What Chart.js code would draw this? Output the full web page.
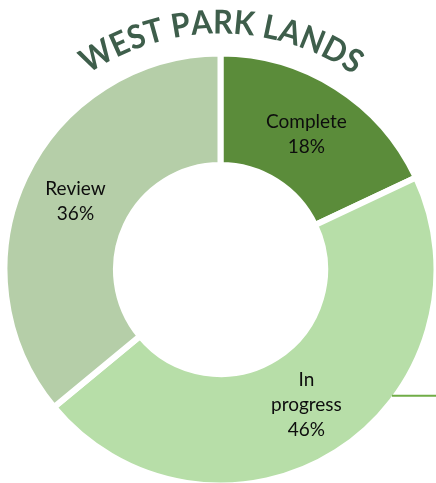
<!DOCTYPE html>
<html>
<head>
<meta charset="utf-8">
<script src="https://cdn.jsdelivr.net/npm/chart.js@4/dist/chart.umd.min.js"></script>
<style>
  html, body { margin: 0; padding: 0; background: #fff; }
  #wrap { width: 436px; height: 483px; }
</style>
</head>
<body>
<div id="wrap"><canvas id="status_pie" width="436" height="483"></canvas></div>
<script>
const chartTitle = 'WEST PARK LANDS';
const categories = ['Complete', 'In progress', 'Review'];
const shares = [18, 46, 36];
const sliceColors = ['#5b8c3a', '#b7dea8', '#b5cea8'];

// labels sit in the middle of the ring, wrapped like the office chart does it
function wrapLabel(ctx, text, maxWidth) {
    const words = text.split(' ');
    const lines = [];
    let line = '';
    words.forEach(w => {
        const test = line ? line + ' ' + w : w;
        if (line && ctx.measureText(test).width > maxWidth) {
            lines.push(line);
            line = w;
        } else {
            line = test;
        }
    });
    lines.push(line);
    return lines;
}

const ringLabels = {
    id: 'ringLabels',
    afterDraw(chart) {
        const ctx = chart.ctx;
        const arcs = chart.getDatasetMeta(0).data;
        ctx.save();
        ctx.font = '19px Lato, "Open Sans", sans-serif';
        ctx.fillStyle = '#0d0d0d';
        ctx.textAlign = 'center';
        ctx.textBaseline = 'middle';
        arcs.forEach((arc, i) => {
            const pos = arc.tooltipPosition();
            const lines = wrapLabel(ctx, categories[i], 88);
            lines.push(shares[i] + '%');
            const lh = 25;
            const top = pos.y - (lines.length - 1) * lh / 2;
            lines.forEach((l, k) => ctx.fillText(l, pos.x, top + k * lh));

            // leader line off the biggest slice, out to the right edge
            if (lines.length > 2) {
                const r = arc.outerRadius - 3;
                const y = pos.y - 9;
                const dy = y - arc.y;
                const x0 = arc.x + Math.sqrt(r * r - dy * dy);
                ctx.strokeStyle = '#70ad47';
                ctx.lineWidth = 2;
                ctx.beginPath();
                ctx.moveTo(x0, y);
                ctx.lineTo(chart.width, y);
                ctx.stroke();
            }
        });
        ctx.restore();
    }
};

// title bent along a circle around the doughnut
const arcTitle = {
    id: 'arcTitle',
    afterDraw(chart) {
        const ctx = chart.ctx;
        const arc = chart.getDatasetMeta(0).data[0];
        const cx = arc.x, cy = arc.y;
        const radius = 236;
        const squeeze = 0.93;
        ctx.save();
        ctx.font = 'bold 33px Lato, "Open Sans", sans-serif';
        ctx.fillStyle = '#3e5e4b';
        ctx.textAlign = 'left';
        ctx.textBaseline = 'alphabetic';
        const total = ctx.measureText(chartTitle).width * squeeze;
        let angle = -total / 2 / radius;
        for (const ch of chartTitle) {
            const w = ctx.measureText(ch).width * squeeze;
            const a = angle + w / 2 / radius;
            ctx.save();
            ctx.translate(cx + Math.sin(a) * radius, cy - Math.cos(a) * radius);
            ctx.rotate(a);
            ctx.scale(squeeze, 1);
            ctx.fillText(ch, -w / 2 / squeeze, 0);
            ctx.restore();
            angle += w / radius;
        }
        ctx.restore();
    }
};

new Chart(document.getElementById('status_pie'), {
    type: 'doughnut',
    data: {
        labels: categories,
        datasets: [{
            data: shares,
            backgroundColor: sliceColors,
            borderColor: '#ffffff',
            borderWidth: 6,
            radius: 216,
            cutout: '48.4%'
        }]
    },
    options: {
        responsive: false,
        animation: false,
        layout: { padding: { left: 5, right: 0, top: 56, bottom: 0 } },
        plugins: {
            legend: { display: false },
            tooltip: { enabled: false }
        }
    },
    plugins: [ringLabels, arcTitle]
});
</script>
</body>
</html>
